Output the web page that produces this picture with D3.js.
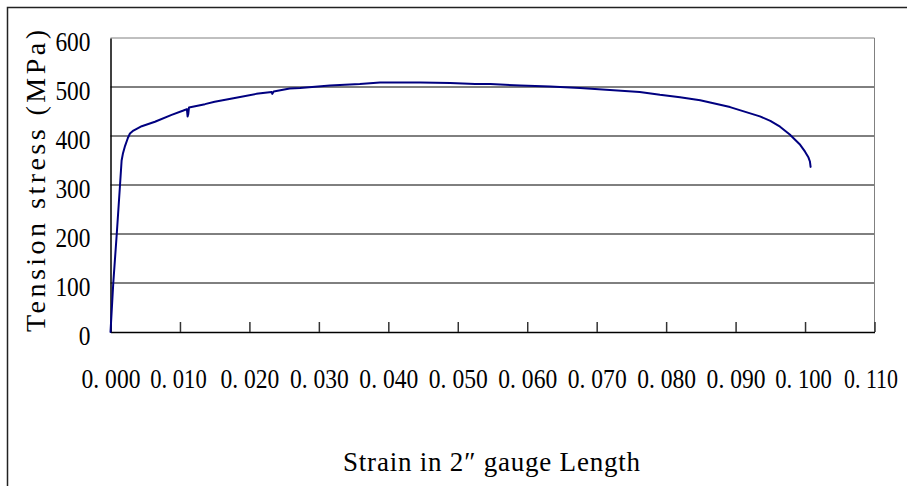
<!DOCTYPE html>
<html>
<head>
<meta charset="utf-8">
<script src="https://cdn.jsdelivr.net/npm/d3@7"></script>
<style>
  html, body { margin: 0; padding: 0; background: #fff; }
  svg { display: block; }
  text { font-family: "Liberation Serif", "DejaVu Serif", serif; fill: #000; }
</style>
</head>
<body>
<svg id="chart" width="907" height="486"></svg>
<script>
// Engineering strain (2" gauge length) and tension stress (MPa) of the tensile test
const strain = [
  0.0000, 0.0004, 0.0009, 0.00137, 0.0016, 0.0018, 0.0021, 0.0025, 0.0028, 0.0033,
  0.0045, 0.0064, 0.0088, 0.0105, 0.0110, 0.0111, 0.0112, 0.0113, 0.0136, 0.0150,
  0.0177, 0.0210, 0.0232, 0.0233, 0.0235, 0.0258, 0.0273, 0.0316, 0.0359, 0.0388,
  0.0446, 0.0489, 0.0525, 0.0547, 0.0590, 0.0633, 0.0676, 0.0719, 0.0762, 0.0791,
  0.0820, 0.0849, 0.0892, 0.0935, 0.0950, 0.0964, 0.0978, 0.0993, 0.1000, 0.1005,
  0.1007, 0.1008
];
const stress = [
    0, 100, 200, 300, 350, 365, 380, 396, 405, 411,
  420, 429, 443, 452, 455, 440, 445, 458, 465, 470,
  477, 486, 490, 486, 491, 497, 498, 503, 506, 509,
  509, 508, 506, 506, 503, 501, 498, 494, 490, 484,
  479, 473, 459, 440, 431, 419, 403, 382, 368, 356,
  348, 337
];

const xTicks = [0, 0.01, 0.02, 0.03, 0.04, 0.05, 0.06, 0.07, 0.08, 0.09, 0.10, 0.11];
const xTickLabels = ["0. 000", "0. 010", "0. 020", "0. 030", "0. 040", "0. 050",
                     "0. 060", "0. 070", "0. 080", "0. 090", "0. 100", "0. 110"];
const yTicks = [0, 100, 200, 300, 400, 500, 600];
const yTickLabels = ["0", "100", "200", "300", "400", "500", "600"];

const xTitle = "Strain in 2\u2033 gauge Length";
const yTitle = "Tension stress (MPa)";

const svg = d3.select("#chart");

// outer chart frame (left and top edges fall inside the view)
svg.append("path")
  .attr("d", "M7.5,486 V7.5 H907")
  .attr("fill", "none")
  .attr("stroke", "#222")
  .attr("stroke-width", 1.5);

const plot = { left: 110.5, right: 874.5, top: 38, bottom: 332 };

const x = d3.scaleLinear().domain([0, 0.11]).range([plot.left, plot.right]);
const y = d3.scaleLinear().domain([0, 600]).range([plot.bottom, plot.top]);

// squeeze a label horizontally to the given width, keeping its anchor point
function condense(sel, widthOf, shiftOf) {
  sel.each(function (d, i) {
    const t = d3.select(this);
    const px = +t.attr("x") || 0;
    t.attr("x", 0);
    const natural = this.getComputedTextLength();
    const sx = Math.min(1, widthOf(d, i) / natural);
    t.attr("transform", `translate(${px + shiftOf(d, i)},0) scale(${sx},1)`);
  });
}

// horizontal gridlines
svg.append("g")
  .selectAll("line")
  .data(yTicks.filter(v => v > 0 && v < 600))
  .join("line")
  .attr("x1", plot.left).attr("x2", plot.right)
  .attr("y1", d => y(d)).attr("y2", d => y(d))
  .attr("stroke", "#000")
  .attr("stroke-width", 1);

// plot border: grey top and right
svg.append("path")
  .attr("d", `M${plot.left},${y(600)} H${plot.right} V${plot.bottom}`)
  .attr("fill", "none")
  .attr("stroke", "#808080")
  .attr("stroke-width", 1);

// x axis with inward ticks
const xAxis = d3.axisBottom(x)
  .tickValues(xTicks)
  .tickSizeInner(-10)
  .tickSizeOuter(0)
  .tickPadding(37)
  .tickFormat((d, i) => xTickLabels[i]);

// narrow "1" glyphs take a little less room than the other digits
const labelWidth = s => 59 - 2.5 * (s.slice(3).split("1").length - 1);

const gx = svg.append("g")
  .attr("transform", `translate(0,${plot.bottom})`)
  .call(xAxis);
gx.select(".domain").attr("stroke", "#000").attr("stroke-width", 1.5);
gx.selectAll(".tick line").attr("stroke", "#333").attr("stroke-width", 1.5);
gx.selectAll(".tick text")
  .attr("font-family", "Liberation Serif, serif")
  .attr("font-size", 27)
  .attr("fill", "#000")
  .call(condense,
        (d, i) => labelWidth(xTickLabels[i]),
        (d, i) => -(59 - labelWidth(xTickLabels[i])) * 0.8);

// y axis
const yAxis = d3.axisLeft(y)
  .tickValues(yTicks)
  .tickSize(0)
  .tickPadding(20)
  .tickFormat((d, i) => yTickLabels[i]);

const gy = svg.append("g")
  .attr("transform", `translate(${plot.left},0)`)
  .call(yAxis);
gy.select(".domain").attr("stroke", "#000").attr("stroke-width", 1.5);
gy.selectAll(".tick text")
  .attr("font-family", "Liberation Serif, serif")
  .attr("font-size", 27)
  .attr("dy", "0.46em")
  .attr("fill", "#000")
  .call(condense, (d, i) => yTickLabels[i].length * 11.7, () => 0);

// stress-strain curve
svg.append("path")
  .datum(stress)
  .attr("d", d3.line().x((d, i) => x(strain[i])).y(d => y(d)))
  .attr("fill", "none")
  .attr("stroke", "#000080")
  .attr("stroke-width", 2)
  .attr("stroke-linejoin", "round")
  .attr("stroke-linecap", "round");

// axis titles
svg.append("text")
  .attr("x", 491.5)
  .attr("y", 471)
  .attr("text-anchor", "middle")
  .attr("font-size", 27)
  .attr("textLength", 297)
  .attr("lengthAdjust", "spacing")
  .text(xTitle);

svg.append("text")
  .attr("transform", "translate(45,181) rotate(-90)")
  .attr("text-anchor", "middle")
  .attr("font-size", 28)
  .attr("textLength", 302)
  .attr("lengthAdjust", "spacing")
  .text(yTitle);
</script>
</body>
</html>
